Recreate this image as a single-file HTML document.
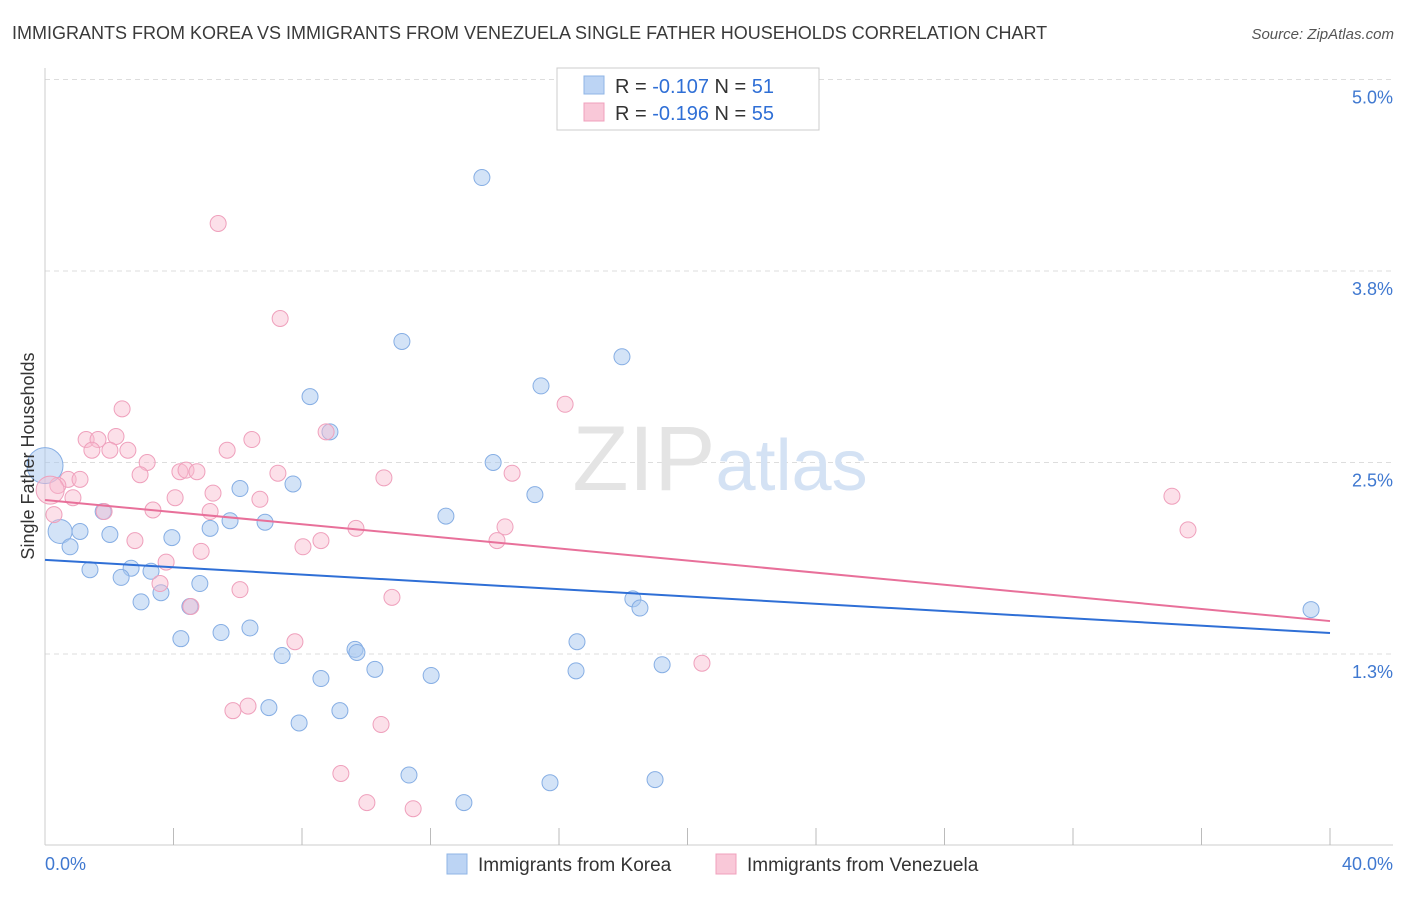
<!DOCTYPE html>
<html><head><meta charset="utf-8"><style>
body{margin:0;background:#fff;font-family:"Liberation Sans",sans-serif;}
svg text{font-family:"Liberation Sans",sans-serif;}
</style></head><body>
<svg id="chart" width="1406" height="892" viewBox="0 0 1406 892" xmlns="http://www.w3.org/2000/svg">
<text x="12" y="39" font-size="18" fill="#3a3a3a">IMMIGRANTS FROM KOREA VS IMMIGRANTS FROM VENEZUELA SINGLE FATHER HOUSEHOLDS CORRELATION CHART</text>
<text x="1394" y="39" font-size="15" fill="#555" font-style="italic" text-anchor="end">Source: ZipAtlas.com</text>
<g id="grid"></g>
<g id="axes"></g>
<text x="720" y="490" font-size="92" text-anchor="middle" fill="#e4e4e4" font-family="Liberation Serif,serif">ZIP<tspan fill="#d4e2f4" font-family="Liberation Sans,sans-serif" font-size="72">atlas</tspan></text>
<g id="pts-blue"></g>
<g id="pts-pink"></g>
<g id="lines"></g>
<text transform="translate(34,456) rotate(-90)" font-size="18" fill="#333" text-anchor="middle">Single Father Households</text>
<g>
<rect x="557" y="68" width="262" height="62" fill="#fff" stroke="#ccc"/>
<rect x="584" y="76" width="20" height="18" fill="#bcd4f4" stroke="#8fb5e6"/>
<rect x="584" y="103" width="20" height="18" fill="#f9c8d8" stroke="#f0a0bc"/>
<text x="615" y="93" font-size="20" fill="#333">R = <tspan fill="#2f6fd6">-0.107</tspan>   N = <tspan fill="#2f6fd6"> 51</tspan></text>
<text x="615" y="120" font-size="20" fill="#333">R = <tspan fill="#2f6fd6">-0.196</tspan>   N = <tspan fill="#2f6fd6">55</tspan></text>
</g>
<g>
<rect x="447" y="854" width="20" height="20" fill="#bcd4f4" stroke="#8fb5e6"/>
<text x="478" y="871" font-size="19" fill="#333">Immigrants from Korea</text>
<rect x="716" y="854" width="20" height="20" fill="#f9c8d8" stroke="#f0a0bc"/>
<text x="747" y="871" font-size="19" fill="#333">Immigrants from Venezuela</text>
</g>
</svg>
<script>
const koreaX=[13.60,11.11,17.96,15.44,8.25,8.87,13.95,15.25,6.07,7.72,12.48,1.81,5.76,6.85,5.14,0.47,1.09,2.02,3.95,0.78,1.40,2.68,3.30,2.37,4.82,3.61,2.99,4.51,18.30,18.52,4.23,5.48,6.38,16.56,9.65,9.71,7.38,10.27,16.53,19.21,8.59,12.02,6.97,9.18,7.91,11.33,15.72,18.99,13.04,39.41,0.0];
const koreaY=[4.36,3.29,3.19,3.00,2.93,2.70,2.50,2.29,2.33,2.36,2.15,2.18,2.12,2.11,2.07,2.05,2.05,2.03,2.01,1.95,1.80,1.81,1.79,1.75,1.71,1.65,1.59,1.56,1.61,1.55,1.35,1.39,1.42,1.33,1.28,1.26,1.24,1.15,1.14,1.18,1.09,1.11,0.90,0.88,0.80,0.46,0.41,0.43,0.28,1.54,2.48];
const koreaR=[8,8,8,8,8,8,8,8,8,8,8,8,8,8,8,12,8,8,8,8,8,8,8,8,8,8,8,8,8,8,8,8,8,8,8,8,8,8,8,8,8,8,8,8,8,8,8,8,8,8,18];
const venX=[5.39,7.32,2.40,16.19,8.75,1.28,1.65,2.21,6.44,1.46,2.02,2.58,5.67,3.18,2.96,4.20,4.39,4.73,7.25,10.55,14.54,0.72,1.09,0.40,0.16,5.23,0.87,4.05,6.69,3.36,1.84,0.28,5.14,9.68,14.32,35.08,35.58,8.59,14.07,8.03,2.80,4.86,3.77,3.58,6.07,10.80,4.54,7.78,20.45,6.32,5.85,10.46,9.21,10.02,11.46];
const venY=[4.06,3.44,2.85,2.88,2.70,2.65,2.65,2.67,2.65,2.58,2.58,2.58,2.58,2.50,2.42,2.44,2.45,2.44,2.43,2.40,2.43,2.39,2.39,2.35,2.32,2.30,2.27,2.27,2.26,2.19,2.18,2.16,2.18,2.07,2.08,2.28,2.06,1.99,1.99,1.95,1.99,1.92,1.85,1.71,1.67,1.62,1.56,1.33,1.19,0.91,0.88,0.79,0.47,0.28,0.24];
const venR=venX.map((v,i)=>i===24?14:8);
const koreaTrend=[1.864,1.387];
const venTrend=[2.255,1.465];
const yTicks=[1.25,2.5,3.75,5.0];
const yTickLabels=["1.3%","2.5%","3.8%","5.0%"];
const xTicks=[0,4,8,12,16,20,24,28,32,36,40];

const NS="http://www.w3.org/2000/svg";
const xs=v=>45+v*32.125;
const ys=v=>845.5-v*153.2;
function mk(tag,attrs,parent){const e=document.createElementNS(NS,tag);for(const k in attrs)e.setAttribute(k,attrs[k]);parent.appendChild(e);return e;}
const grid=document.getElementById('grid'),axes=document.getElementById('axes');
yTicks.forEach((t,i)=>{
  const l=mk('line',{x1:45,x2:1393,y1:ys(t),y2:ys(t),stroke:'#ddd','stroke-dasharray':'5,4'},grid);
  
  
  const tx=mk('text',{x:1393,y:ys(t)+24,'font-size':18,fill:'#3f78d0','text-anchor':'end'},axes);
  tx.textContent=yTickLabels[i];
  
  
});
const ax=mk('line',{x1:45,x2:1393,y1:845,y2:845,stroke:'#ccc'},axes);


const ay=mk('line',{x1:45,x2:45,y1:68,y2:845,stroke:'#ccc'},axes);


xTicks.forEach(t=>{
  if(t===0)return;
  const l=mk('line',{x1:xs(t),x2:xs(t),y1:828,y2:845,stroke:'#bbb'},axes);
  
  
});
const x0=mk('text',{x:45,y:870,'font-size':18,fill:'#3f78d0'},axes);x0.textContent='0.0%';


const x1=mk('text',{x:1393,y:870,'font-size':18,fill:'#3f78d0','text-anchor':'end'},axes);x1.textContent='40.0%';



function pts(X,Y,R,g,fill,stroke,name){
  X.forEach((x,i)=>{
    const c=mk('circle',{cx:xs(x),cy:ys(Y[i]),r:R[i],fill:fill,stroke:stroke,'stroke-width':1},g);
    
    
  });
}
pts(koreaX,koreaY,koreaR,document.getElementById('pts-blue'),'rgba(168,200,240,0.5)','#86aee4','korea-point');
pts(venX,venY,venR,document.getElementById('pts-pink'),'rgba(248,186,206,0.45)','#efa0bc','venezuela-point');
const lg=document.getElementById('lines');
const bl=mk('line',{x1:xs(0),y1:ys(koreaTrend[0]),x2:xs(40),y2:ys(koreaTrend[1]),stroke:'#2f6fd6','stroke-width':2},lg);


const pl=mk('line',{x1:xs(0),y1:ys(venTrend[0]),x2:xs(40),y2:ys(venTrend[1]),stroke:'#e8709a','stroke-width':2},lg);


</script>
</body></html>
